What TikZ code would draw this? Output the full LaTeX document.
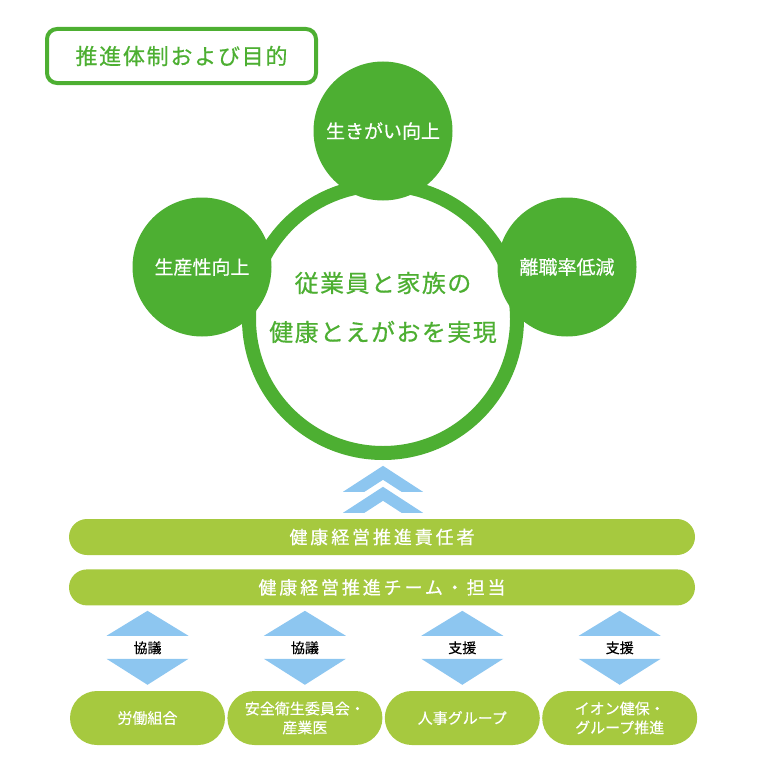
\documentclass[tikz,border=0pt]{standalone}
\usepackage{fontspec}
\setmainfont{Noto Sans CJK JP}
\usetikzlibrary{positioning, calc}
\definecolor{ringgreen}{RGB}{77,175,50}
\definecolor{bargreen}{RGB}{166,201,63}
\definecolor{arrowblue}{RGB}{141,198,240}
\tikzset{
  titlebox/.style={rectangle, draw=ringgreen, line width=4pt, rounded corners=10pt,
                   minimum width=269pt, minimum height=54pt, inner sep=0pt,
                   text=ringgreen, font={\fontsize{22}{26}\selectfont\addfontfeature{LetterSpace=8,FakeBold=0.6}}},
  ring/.style={circle, draw=ringgreen, line width=14pt, fill=white,
               minimum size=268pt, inner sep=0pt},
  goaltext/.style={align=center, text=ringgreen, inner sep=0pt,
                   font={\fontsize{24}{49}\selectfont\addfontfeature{LetterSpace=6,FakeBold=0.5}}},
  aim/.style={circle, fill=ringgreen, minimum size=139pt, inner sep=0pt,
              text=white, font={\fontsize{19}{22}\selectfont\addfontfeature{FakeBold=0.4}}},
  bar/.style={rectangle, fill=bargreen, rounded corners=18pt,
              minimum width=626pt, minimum height=36pt, inner sep=0pt,
              text=white, font={\fontsize{18}{22}\selectfont\addfontfeature{LetterSpace=16,FakeBold=0.5}}},
  member/.style={rectangle, fill=bargreen, rounded corners=27pt,
                 minimum width=155pt, minimum height=54pt, inner sep=0pt,
                 align=center, text=white, font={\fontsize{15}{19}\selectfont\addfontfeature{FakeBold=0.3}}},
  talk/.style={inner sep=0pt, text=black, font={\fontsize{14}{16}\selectfont\addfontfeature{FakeBold=0.3}}},
  chev/.style={fill=arrowblue},
}

\begin{document}
\begin{tikzpicture}[x=1pt, y=-1pt, node distance=2pt]
  \useasboundingbox (0,0) rectangle (768,768);
  % title
  \node[titlebox] (title) at (181.5,56) {推進体制および目的};
  % goal ring and the three aims
  \node[ring] (goal) at (383,319) {};
  \node[goaltext] (goal-text) at ([yshift=11.5pt]goal.center)
    {従業員と家族の\\健康とえがおを実現};
  \node[aim] (life) at (383,131) {生きがい向上};
  \node[aim] (prod) at (202,267) {生産性向上};
  \node[aim] (turn) at (567,267) {離職率低減};
  % bars
  \node[bar] (lead) at (382,537) {健康経営推進責任者};
  \node[bar, below=14pt of lead] (team) {健康経営推進チーム・担当};
  % chevrons
  \foreach \d in {0,21}
    \fill[chev] ($(lead.north)+(1,-53+\d)$) coordinate (c\d)
      -- ++(-40,26) -- ++(21.5,0) -- ++(18.5,-12) -- ++(18.5,12) -- ++(21.5,0) -- cycle;
  % members
  \node[member] (union) at (147.5,718) {労働組合};
  \node[member, right=of union] (safety) {安全衛生委員会・\\産業医};
  \node[member, right=of safety] (hr) {人事グループ};
  \node[member, right=of hr] (kenpo) {イオン健保・\\グループ推進};
  % up/down arrows with labels
  \foreach \b/\t in {union/協議, safety/協議, hr/支援, kenpo/支援} {
    \fill[chev] ($(\b.north)+(0,-80)$) -- ++(-41,25) -- ++(82,0) -- cycle;
    \fill[chev] ($(\b.north)+(0,-6)$) -- ++(-41,-26) -- ++(82,0) -- cycle;
    \node[talk] (lbl-\b) at ($(\b.north)+(0,-43)$) {\t};
  }
\end{tikzpicture}
\end{document}
